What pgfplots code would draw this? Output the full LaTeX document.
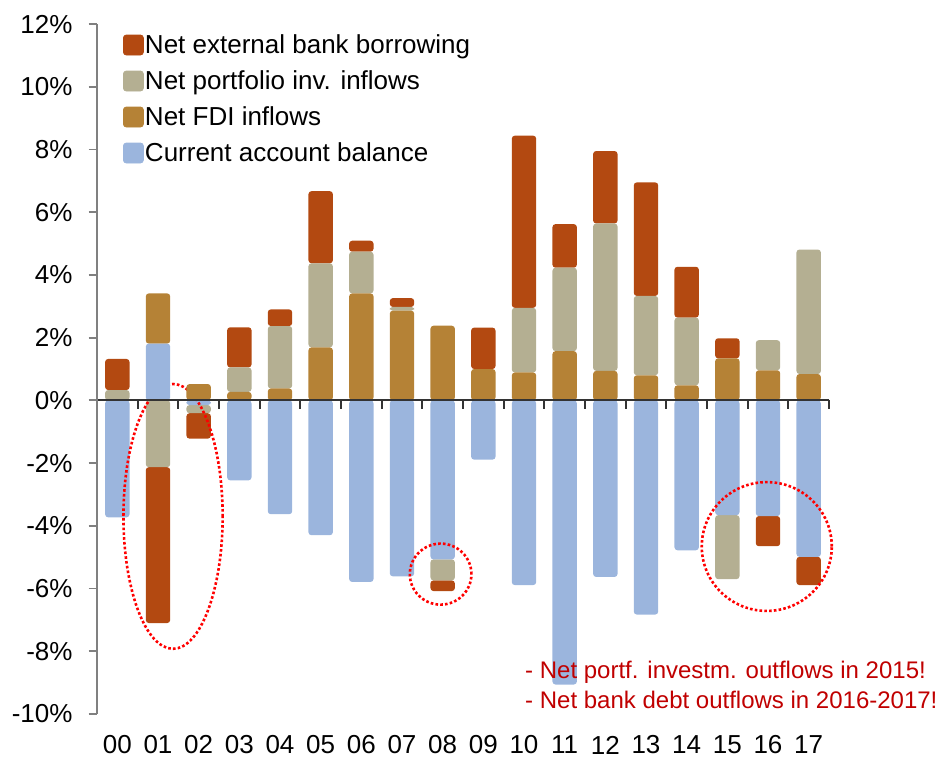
\documentclass[border=0pt]{standalone}
\usepackage{fontspec}
\setmainfont{Liberation Sans}
\usepackage{pgfplots}
\usepackage{pgfplotstable}
\pgfplotsset{compat=1.18}
\definecolor{bankc}{HTML}{B34911}
\definecolor{portc}{HTML}{B4AF92}
\definecolor{fdic}{HTML}{B58236}
\definecolor{cac}{HTML}{9BB5DD}
\definecolor{annc}{HTML}{C00000}

% positive parts of each year (stacked upward)
\pgfplotstableread{
x ca fdi port bank
0 0 0 0.33 0.99
1 1.81 1.60 0 0
2 0 0.52 0 0
3 0 0.27 0.78 1.28
4 0 0.38 1.99 0.53
5 0 1.69 2.68 2.30
6 0 3.41 1.33 0.35
7 0 2.86 0.12 0.28
8 0 2.38 0 0
9 0 1.00 0 1.32
10 0 0.89 2.06 5.49
11 0 1.57 2.66 1.39
12 0 0.94 4.70 2.31
13 0 0.80 2.53 3.62
14 0 0.48 2.16 1.62
15 0 1.34 0 0.64
16 0 0.96 0.96 0
17 0 0.84 3.97 0
}\postab

% negative parts of each year (stacked downward)
\pgfplotstableread{
x ca fdi port bank
0 -3.73 0 0 0
1 0 0 -2.13 -4.97
2 -0.15 0 -0.26 -0.81
3 -2.55 0 0 0
4 -3.63 0 0 0
5 -4.30 0 0 0
6 -5.79 0 0 0
7 -5.61 0 0 0
8 -5.07 0 -0.67 -0.34
9 -1.89 0 0 0
10 -5.89 0 0 0
11 -9.06 0 0 0
12 -5.63 0 0 0
13 -6.83 0 0 0
14 -4.78 0 0 0
15 -3.66 0 -2.04 0
16 -3.69 0 0 -0.96
17 -4.99 0 0 -0.90
}\negtab

\pgfplotsset{
  common/.style={
    scale only axis, width=366pt, height=345pt,
    xmin=-0.5, xmax=17.5, ymin=-10, ymax=12,
    ybar stacked, bar width=0.6,
    clip=false,
  },
  segment/.style={fill=#1, draw=none, rounded corners=1.5pt},
}

\begin{document}
\begin{tikzpicture}[font=\fontsize{13}{15.6}\selectfont]
\useasboundingbox (-48.5pt,-21.5pt) rectangle (420.5pt,357pt);

\begin{axis}[common, hide axis]
\addplot[segment=cac] table[x=x,y=ca]{\negtab};
\addplot[segment=fdic] table[x=x,y=fdi]{\negtab};
\addplot[segment=portc] table[x=x,y=port]{\negtab};
\addplot[segment=bankc] table[x=x,y=bank]{\negtab};
\end{axis}

\begin{axis}[common,
  axis y line*=left, axis x line*=middle, axis on top,
  ytick={-10,-8,...,12},
  yticklabels={-10\%,-8\%,-6\%,-4\%,-2\%,0\%,2\%,4\%,6\%,8\%,10\%,12\%},
  xtick={-0.5,0.5,...,17.5}, xticklabels={},
  tick align=outside, major tick length=4.2pt,
  y axis line style={draw=black!50, line width=0.9pt},
  x axis line style={draw=black!80, line width=0.9pt},
  ytick style={draw=black!50, line width=0.9pt},
  xtick style={draw=black!80, line width=0.9pt},
  tick label style={font=\fontsize{13}{15.6}\selectfont},
  yticklabel style={xshift=-4.5pt},
  legend style={draw=none, fill=none, inner sep=0pt, outer sep=0pt,
    at={(axis description cs:0,1)}, anchor=north west,
    xshift=13pt, yshift=-4.85pt, row sep=4.7pt,
    nodes={inner sep=0.6pt, text height=9.3pt, text depth=2.8pt,
      font=\fontsize{13}{15.6}\selectfont}},
  legend cell align=left,
]
\addplot[segment=cac, forget plot] table[x=x,y=ca]{\postab};
\addplot[segment=fdic, forget plot] table[x=x,y=fdi]{\postab};
\addplot[segment=portc, forget plot] table[x=x,y=port]{\postab};
\addplot[segment=bankc, forget plot] table[x=x,y=bank]{\postab};

\addlegendimage{legend image code/.code={\fill[bankc, rounded corners=1.5pt] (0pt,-4pt) rectangle (10pt,6pt);}}
\addlegendentry{Net external bank borrowing}
\addlegendimage{legend image code/.code={\fill[portc, rounded corners=1.5pt] (0pt,-4pt) rectangle (10pt,6pt);}}
\addlegendentry{Net portfolio inv. inflows}
\addlegendimage{legend image code/.code={\fill[fdic, rounded corners=1.5pt] (0pt,-4pt) rectangle (10pt,6pt);}}
\addlegendentry{Net FDI inflows}
\addlegendimage{legend image code/.code={\fill[cac, rounded corners=1.5pt] (0pt,-4pt) rectangle (10pt,6pt);}}
\addlegendentry{Current account balance}

\pgfplotsinvokeforeach{0,...,17}{
  \node[font=\fontsize{13}{15.6}\selectfont] at (axis cs:#1,-10) [yshift=-15.5pt] {\ifnum#1<10 0\fi#1};
}

\draw[red, line width=1.3pt, dash pattern=on 1.3pt off 1.1pt]
  (axis cs:1.37,-3.70) ellipse [x radius=24.8pt, y radius=66.2pt];
\draw[red, line width=1.3pt, dash pattern=on 1.3pt off 1.1pt]
  (axis cs:7.95,-5.54) ellipse [x radius=15.4pt, y radius=15.25pt];
\draw[red, line width=1.3pt, dash pattern=on 1.3pt off 1.1pt]
  (axis cs:15.97,-4.66) ellipse [x radius=32.5pt, y radius=32.2pt];

\node[anchor=west, align=left, inner sep=0pt, text=annc,
  font=\fontsize{12}{15}\selectfont] at (axis cs:10.02,-9.08)
  {- Net portf. investm. outflows in 2015!\\- Net bank debt outflows in 2016-2017!};
\end{axis}
\end{tikzpicture}
\end{document}
